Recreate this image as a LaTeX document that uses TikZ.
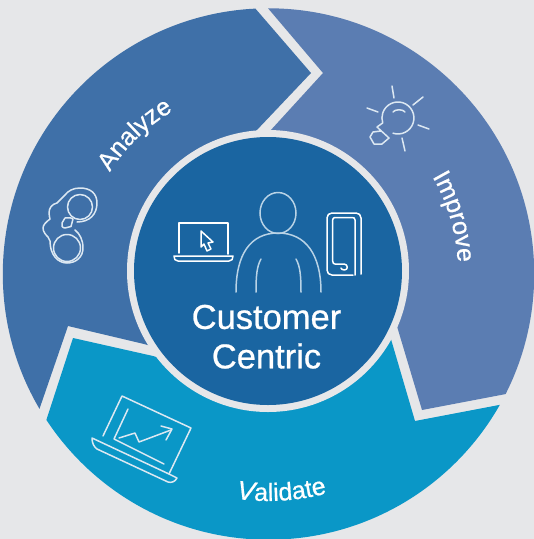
\documentclass[tikz,border=0pt]{standalone}
\usepackage{fontspec}
\setmainfont{Liberation Sans}[FakeBold=0.7]
\usetikzlibrary{decorations.text}
\definecolor{bgc}{HTML}{E6E7E9}
\definecolor{analyzec}{HTML}{3F70A8}
\definecolor{improvec}{HTML}{5B7DB2}
\definecolor{validatec}{HTML}{0A97C7}
\definecolor{centerc}{HTML}{1A65A1}
\definecolor{iconc}{HTML}{DCE8F2}
\definecolor{personc}{HTML}{B9D3E6}
\newcommand{\labelfont}{\color{white}\fontsize{25}{25}\selectfont}
\newcommand{\bigvfont}{\color{white}\fontsize{26.5}{26.5}\selectfont\itshape}
\tikzset{
  icon/.style={draw=iconc,line width=1.5pt,line cap=round,line join=round},
  whiteicon/.style={draw=white,line width=1.5pt,line cap=round,line join=round},
  personline/.style={draw=personc,line width=1.5pt,line cap=round},
}
\begin{document}
\begin{tikzpicture}[x=1pt,y=-1pt]
\useasboundingbox (0,0) rectangle (534,539);
\fill[bgc] (0,0) rectangle (534,539);
\begin{scope}
\clip (268.5,274) circle[radius=265.7pt];
\fill[analyzec] (248,0) -- (311,73) -- (256,131) -- (268,272) -- (155,347) -- (144,344) -- (68,326) -- (26,448) -- (-10,448) -- (-10,0) -- cycle;
\fill[improvec] (261,0) -- (323,73) -- (270,131) -- (268,272) -- (396,323) -- (399,333) -- (422,410) -- (590,378) -- (590,0) -- cycle;
\fill[validatec] (21,498) -- (47,418) -- (73,338) -- (153,356) -- (160,358) -- (268,272) -- (390,336) -- (393,346) -- (415,421) -- (499,405) -- (590,388) -- (590,560) -- (21,560) -- cycle;
\end{scope}
\fill[bgc] (268,271) circle[radius=141pt];
\fill[centerc] (268,271) circle[radius=134pt];
% person
\draw[personline] (278,213) ellipse[x radius=18pt,y radius=20.5pt];
\draw[personline] (236,292) .. controls (236,255) and (250,233) .. (278,233) .. controls (306,233) and (321,255) .. (321,292);
\draw[personline] (256,292) .. controls (256,275) and (257,266) .. (261,259);
\draw[personline] (301,292) .. controls (301,275) and (300,266) .. (296,259);
% laptop
\draw[whiteicon] (179,253) -- (179,223) -- (228,223) -- (228,254);
\draw[whiteicon] (174,256) -- (233,256) .. controls (233,259) and (232,261) .. (229,261) -- (178,261) .. controls (175,261) and (174,259) .. (174,256) -- cycle;
\draw[whiteicon] (201,231) -- (201,247) -- (204,244) -- (207,251) -- (211,249) -- (208,243) -- (213,242) -- cycle;
% phone
\draw[whiteicon] (361,274) -- (361,218) .. controls (361,215) and (359,213) .. (356,213) -- (332,213) .. controls (329,213) and (327,215) .. (327,218) -- (327,270) .. controls (327,273) and (329,275) .. (332,275) -- (353,275);
\draw[whiteicon] (355,275) -- (355,220) .. controls (355,218) and (354,217.5) .. (352,217.5) -- (335,217.5) .. controls (333.5,217.5) and (332.7,218.5) .. (332.7,220) -- (332.7,261) .. controls (332.7,263) and (333.5,264) .. (335,264) -- (344,264) .. controls (348,264) and (348.5,270) .. (344.5,270) .. controls (342.5,270) and (341,269) .. (341,268);
% bulb
\draw[icon] (393,133.2) arc[start angle=-108,end angle=198,radius=16pt] -- (377,127) -- (389,138) -- (382,144) -- (374,144) -- (370,137) -- (373,132) -- (381,131);
\draw[icon] (393,112) .. controls (395,109) and (403,109) .. (405,112);
\draw[icon] (392,86) -- (394,98);
\draw[icon] (423,97) -- (413,105);
\draw[icon] (418,125) -- (429,129);
\draw[icon] (402,138) -- (405,151);
\draw[icon] (367,108) -- (378,112);
% binoculars
\draw[icon] (80,207) circle[radius=12.5pt];
\draw[icon] (67,248) circle[radius=13.5pt];
\draw[icon] (62,223) -- (65,218) .. controls (68,217) and (72,218) .. (73,219) -- (71,226.5) -- (65,228) .. controls (62,228) and (61,225) .. (62,223) -- cycle;
\draw[icon] (77,222) .. controls (90,222) and (97,214) .. (97,203) .. controls (97,193) and (90,188) .. (80,188) .. controls (73,188) and (68,191) .. (65,195) -- (57,203) .. controls (52,204) and (49,208) .. (49,213) .. controls (49,216) and (50,218) .. (50,219) .. controls (46,222) and (43,225) .. (43,228) .. controls (43,232) and (46,235) .. (48,237) -- (50,241) .. controls (50,255) and (58,263) .. (67,263) .. controls (76,263) and (83,257) .. (83,248) .. controls (83,240) and (80,234) .. (75,230);
% chart
\draw[icon] (103,436) -- (122,396) -- (191,428) -- (169,474);
\draw[icon] (128,409) -- (114,439) -- (164,464);
\draw[icon] (92,438) -- (169,474) -- (177,478) .. controls (175,482) and (171,483) .. (168,482) -- (97,449) .. controls (94,447) and (92,443) .. (92,438) -- cycle;
\draw[icon] (119,438) -- (135,433) -- (139,442) -- (171,430);
\draw[icon] (161,426) -- (172,429) -- (166,440);
% texts
\node[text=white,font=\fontsize{34.5}{34.5}\selectfont] (customer) at (266.5,317) {Customer};
\node[text=white,font=\fontsize{34.5}{34.5}\selectfont] (centric) at (266.5,356) {Centric};
\begin{scope}[y=1pt,shift={(268pt,-272pt)}]
\path[decorate,decoration={text along path,text align=center,text={|\labelfont|Analyze}}] (174.1:187pt) arc[start angle=174.1,end angle=94.1,radius=187pt];
\path[decorate,decoration={text along path,text align=center,text={|\labelfont|Improve}}] (56.5:190pt) arc[start angle=56.5,end angle=-23.5,radius=190pt];
\path[decorate,decoration={text along path,text align=center,text={|\bigvfont|V|||\labelfont|alidate}}] (-128.5:229pt) arc[start angle=-128.5,end angle=-44.5,radius=229pt];
\end{scope}
\end{tikzpicture}
\end{document}
